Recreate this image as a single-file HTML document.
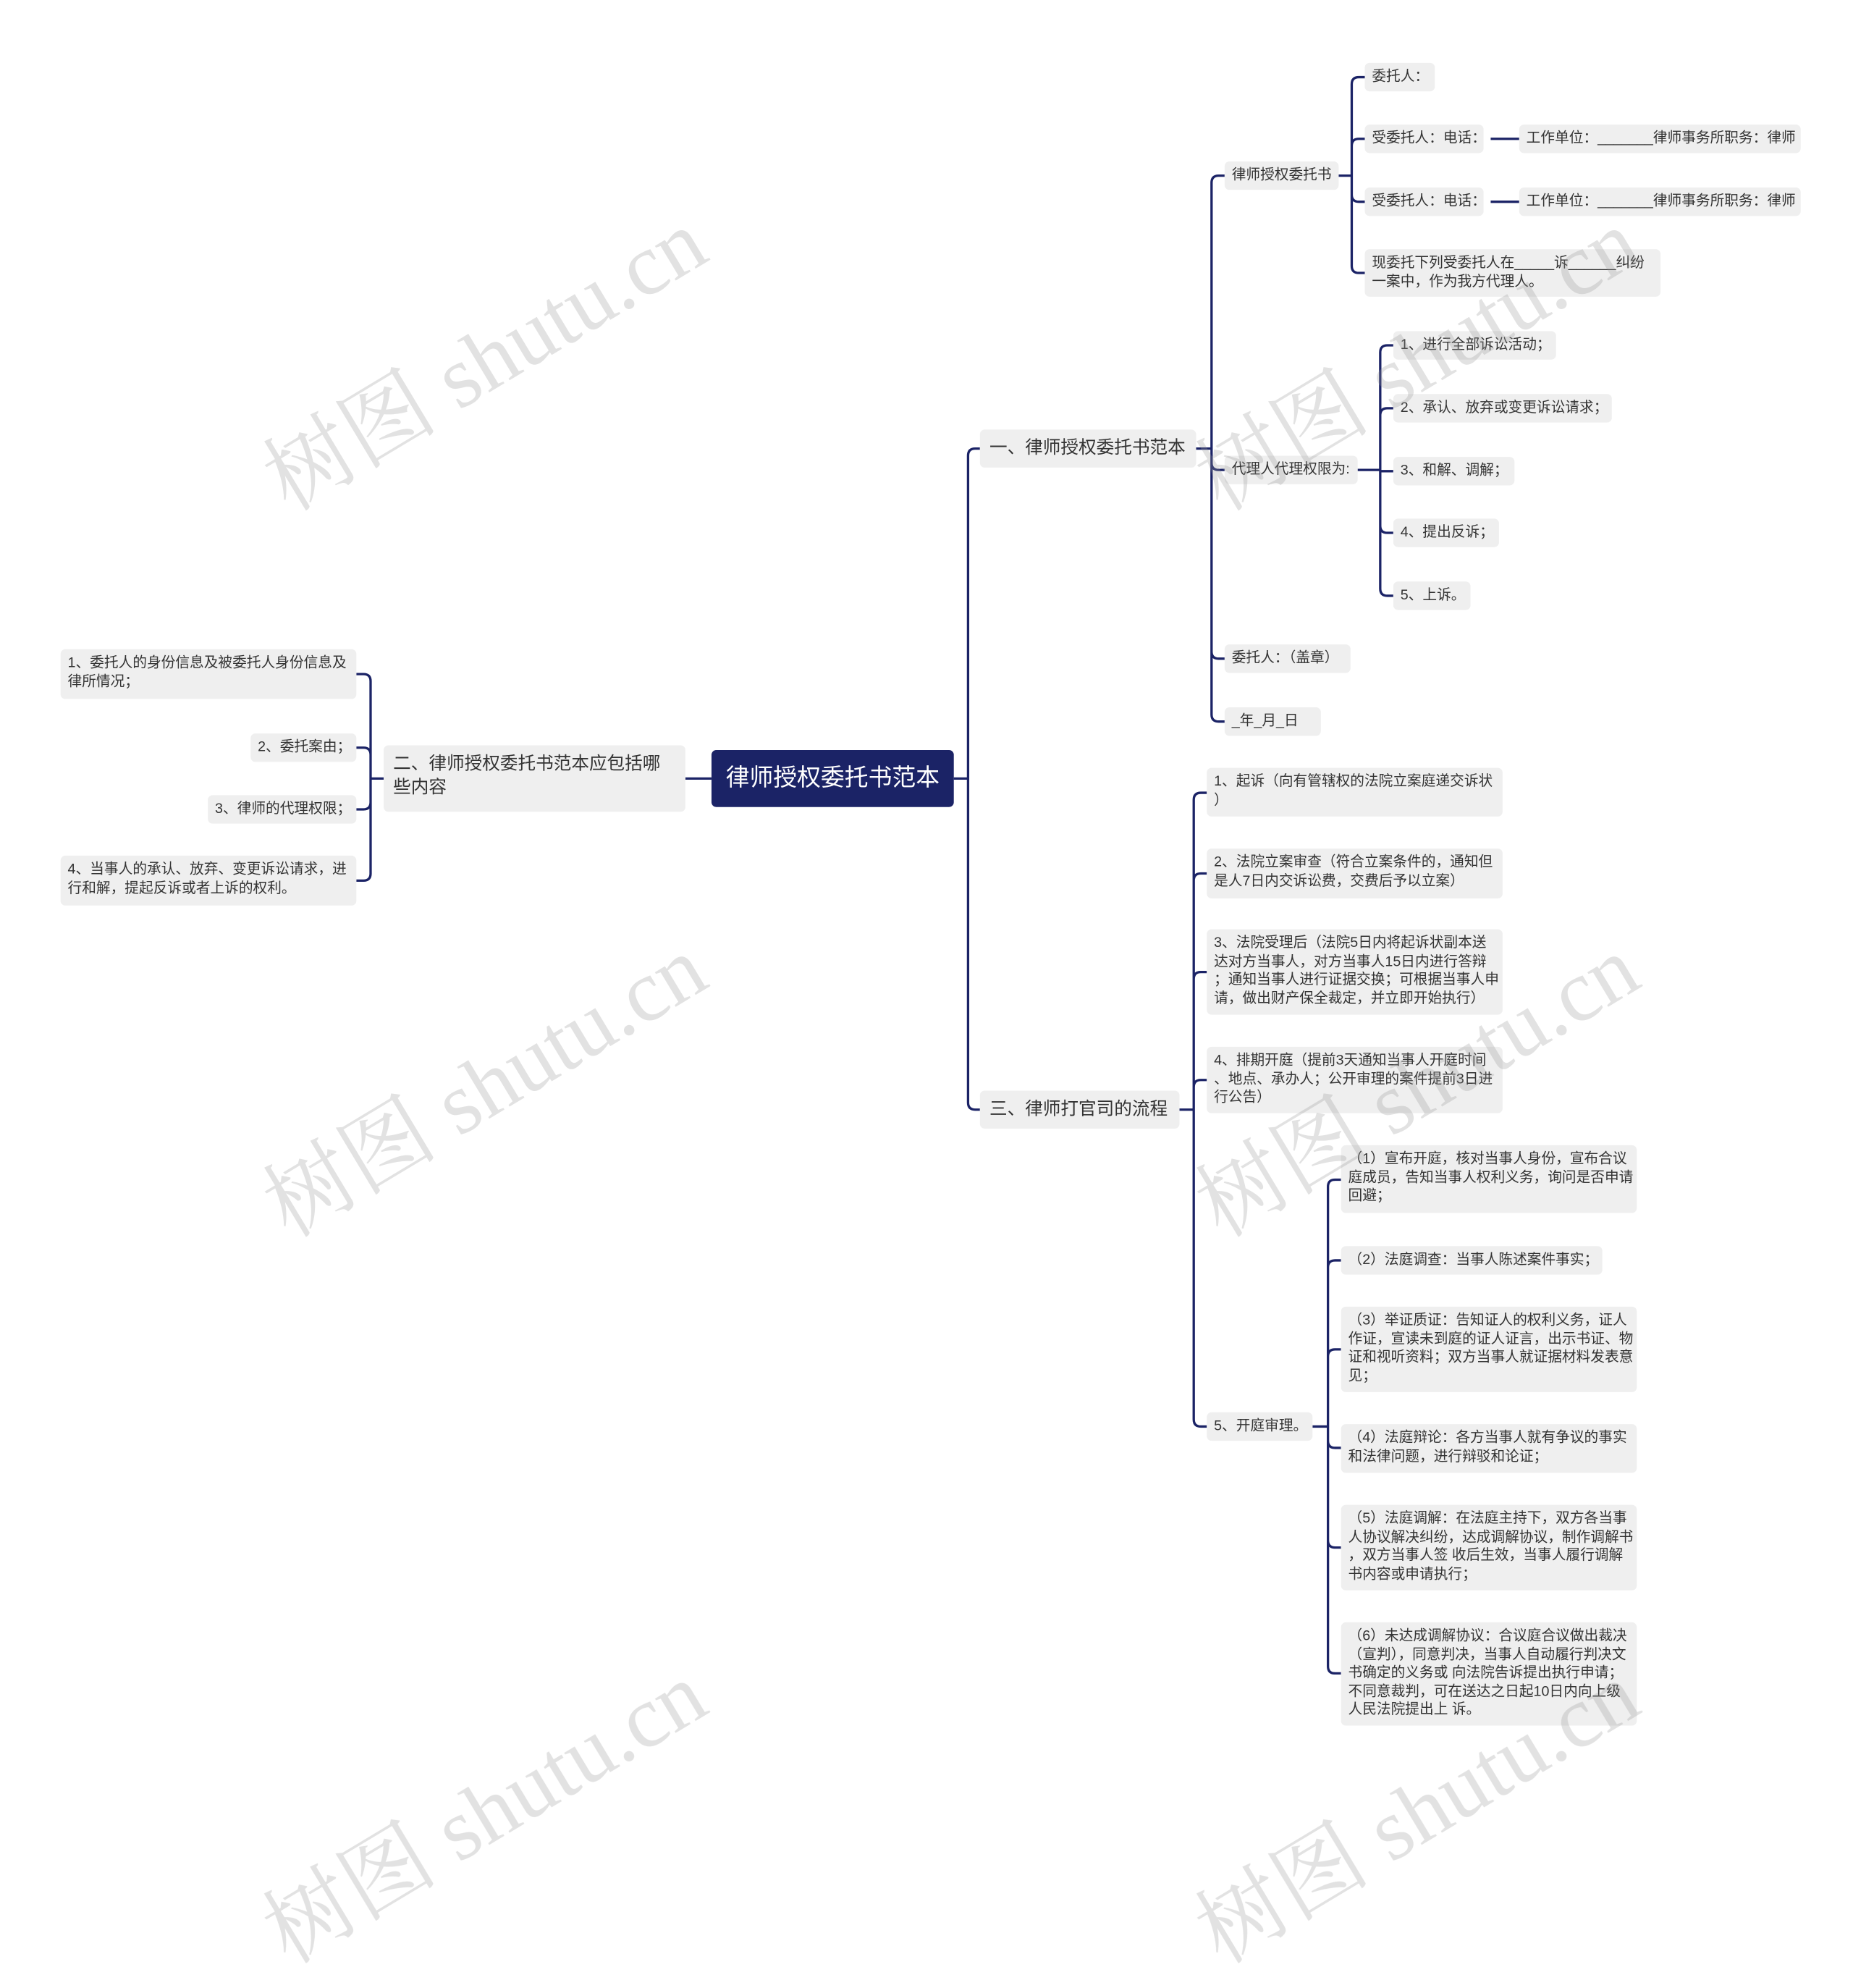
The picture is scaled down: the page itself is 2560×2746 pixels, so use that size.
<!DOCTYPE html>
<html><head><meta charset="utf-8"><style>
html,body{margin:0;padding:0;background:#fff;}
body{width:2560px;height:2459px;overflow:hidden;position:relative;}
#c{position:absolute;left:0;top:0;width:1560px;height:1500px;transform:scale(1.641,1.6393);transform-origin:0 0;font-family:"Liberation Sans","Noto Sans CJK SC",sans-serif;}
.n{position:absolute;background:#efefef;border-radius:4px;color:#333;font-size:12px;line-height:15.5px;box-sizing:border-box;padding:4px 6px;white-space:nowrap;}
.l1{font-size:15px;line-height:20px;padding:6px 8px;}
.root{position:absolute;left:599px;top:632px;width:204px;height:48px;background:#1b2366;border-radius:4px;color:#fff;font-size:20px;line-height:48px;text-align:center;}
.wm{position:absolute;color:rgba(150,150,150,0.28);font-size:74px;font-family:"Liberation Serif","Noto Serif CJK SC",serif;transform:rotate(-31deg);transform-origin:0 0;white-space:nowrap;}
svg{position:absolute;left:0;top:0;}
</style></head><body><div id="c">
<svg width="1560" height="1500" fill="none" stroke="#1b2366" stroke-width="2">
<path d="M803 656H815M815 656V384Q815 378 821 378H825M815 656V929Q815 935 821 935H825"/>
<path d="M577 656H599"/>
<path d="M1007 378H1020M1020 378V154Q1020 148 1026 148H1031M1020 378V390Q1020 396 1026 396H1031M1020 378V549Q1020 555 1026 555H1031M1020 378V602Q1020 608 1026 608H1031"/>
<path d="M1127 148H1138M1138 148V71Q1138 65 1144 65H1149M1138 148V123Q1138 117 1144 117H1149M1138 148V164Q1138 170 1144 170H1149M1138 148V224Q1138 230 1144 230H1149"/>
<path d="M1143 396H1162M1162 396V297Q1162 291 1168 291H1173M1162 396V350Q1162 344 1168 344H1173M1162 396V397H1173M1162 396V443Q1162 449 1168 449H1173M1162 396V496Q1162 502 1168 502H1173"/>
<path d="M1255 117H1279M1255 170H1279"/>
<path d="M323 656H312M312 656V574Q312 568 306 568H300M312 656V636Q312 630 306 630H300M312 656V676Q312 682 306 682H300M312 656V736Q312 742 306 742H300"/>
<path d="M993 935H1005M1005 935V674Q1005 668 1011 668H1016M1005 935V742Q1005 736 1011 736H1016M1005 935V825Q1005 819 1011 819H1016M1005 935V916Q1005 910 1011 910H1016M1005 935V1196Q1005 1202 1011 1202H1016"/>
<path d="M1105 1202H1118M1118 1202V1000Q1118 994 1124 994H1129M1118 1202V1068Q1118 1062 1124 1062H1129M1118 1202V1143Q1118 1137 1124 1137H1129M1118 1202V1214Q1118 1220 1124 1220H1129M1118 1202V1298Q1118 1304 1124 1304H1129M1118 1202V1404Q1118 1410 1124 1410H1129"/>
</svg>
<div class="root">律师授权委托书范本</div>
<div class="n l1" style="left:825px;top:362px;width:182px;height:32px;">一、律师授权委托书范本</div>
<div class="n l1" style="left:323px;top:628px;width:254px;height:56px;white-space:normal;">二、律师授权委托书范本应包括哪些内容</div>
<div class="n l1" style="left:825px;top:919px;width:168px;height:32px;">三、律师打官司的流程</div>

<div class="n" style="left:1031px;top:136px;width:96px;height:24px;">律师授权委托书</div>
<div class="n" style="left:1031px;top:384px;width:112px;height:24px;">代理人代理权限为:</div>
<div class="n" style="left:1031px;top:543px;width:106px;height:24px;">委托人：（盖章）</div>
<div class="n" style="left:1031px;top:596px;width:81px;height:24px;">_年_月_日</div>

<div class="n" style="left:1149px;top:53px;width:59px;height:24px;">委托人：</div>
<div class="n" style="left:1149px;top:105px;width:100px;height:24px;">受委托人：电话：</div>
<div class="n" style="left:1279px;top:105px;width:237px;height:24px;">工作单位：_______律师事务所职务：律师</div>
<div class="n" style="left:1149px;top:158px;width:100px;height:24px;">受委托人：电话：</div>
<div class="n" style="left:1279px;top:158px;width:237px;height:24px;">工作单位：_______律师事务所职务：律师</div>
<div class="n" style="left:1149px;top:210px;width:249px;height:40px;">现委托下列受委托人在_____诉______纠纷<br>一案中，作为我方代理人。</div>

<div class="n" style="left:1173px;top:279px;width:137px;height:24px;">1、进行全部诉讼活动；</div>
<div class="n" style="left:1173px;top:332px;width:184px;height:24px;">2、承认、放弃或变更诉讼请求；</div>
<div class="n" style="left:1173px;top:385px;width:102px;height:24px;">3、和解、调解；</div>
<div class="n" style="left:1173px;top:437px;width:89px;height:24px;">4、提出反诉；</div>
<div class="n" style="left:1173px;top:490px;width:65px;height:24px;">5、上诉。</div>

<div class="n" style="left:51px;top:547px;width:249px;height:42px;">1、委托人的身份信息及被委托人身份信息及<br>律所情况；</div>
<div class="n" style="left:211px;top:618px;width:89px;height:24px;">2、委托案由；</div>
<div class="n" style="left:175px;top:670px;width:125px;height:24px;">3、律师的代理权限；</div>
<div class="n" style="left:51px;top:721px;width:249px;height:42px;">4、当事人的承认、放弃、变更诉讼请求，进<br>行和解，提起反诉或者上诉的权利。</div>

<div class="n" style="left:1016px;top:647px;width:249px;height:41px;">1、起诉（向有管辖权的法院立案庭递交诉状<br>）</div>
<div class="n" style="left:1016px;top:715px;width:249px;height:42px;">2、法院立案审查（符合立案条件的，通知但<br>是人7日内交诉讼费，交费后予以立案）</div>
<div class="n" style="left:1016px;top:783px;width:249px;height:72px;">3、法院受理后（法院5日内将起诉状副本送<br>达对方当事人，对方当事人15日内进行答辩<br>；通知当事人进行证据交换；可根据当事人申<br>请，做出财产保全裁定，并立即开始执行）</div>
<div class="n" style="left:1016px;top:882px;width:249px;height:56px;">4、排期开庭（提前3天通知当事人开庭时间<br>、地点、承办人；公开审理的案件提前3日进<br>行公告）</div>
<div class="n" style="left:1016px;top:1190px;width:89px;height:24px;">5、开庭审理。</div>

<div class="n" style="left:1129px;top:965px;width:249px;height:57px;">（1）宣布开庭，核对当事人身份，宣布合议<br>庭成员，告知当事人权利义务，询问是否申请<br>回避；</div>
<div class="n" style="left:1129px;top:1050px;width:220px;height:24px;">（2）法庭调查：当事人陈述案件事实；</div>
<div class="n" style="left:1129px;top:1101px;width:249px;height:72px;">（3）举证质证：告知证人的权利义务，证人<br>作证，宣读未到庭的证人证言，出示书证、物<br>证和视听资料；双方当事人就证据材料发表意<br>见；</div>
<div class="n" style="left:1129px;top:1200px;width:249px;height:41px;">（4）法庭辩论：各方当事人就有争议的事实<br>和法律问题，进行辩驳和论证；</div>
<div class="n" style="left:1129px;top:1268px;width:249px;height:72px;">（5）法庭调解：在法庭主持下，双方各当事<br>人协议解决纠纷，达成调解协议，制作调解书<br>，双方当事人签 收后生效，当事人履行调解<br>书内容或申请执行；</div>
<div class="n" style="left:1129px;top:1367px;width:249px;height:87px;">（6）未达成调解协议：合议庭合议做出裁决<br>（宣判），同意判决，当事人自动履行判决文<br>书确定的义务或 向法院告诉提出执行申请；<br>不同意裁判，可在送达之日起10日内向上级<br>人民法院提出上 诉。</div>

<div class="wm" style="left:200px;top:360px;">树图 shutu.cn</div>
<div class="wm" style="left:985px;top:360px;">树图 shutu.cn</div>
<div class="wm" style="left:200px;top:972px;">树图 shutu.cn</div>
<div class="wm" style="left:985px;top:972px;">树图 shutu.cn</div>
<div class="wm" style="left:200px;top:1584px;">树图 shutu.cn</div>
<div class="wm" style="left:985px;top:1584px;">树图 shutu.cn</div>
</div></body></html>
